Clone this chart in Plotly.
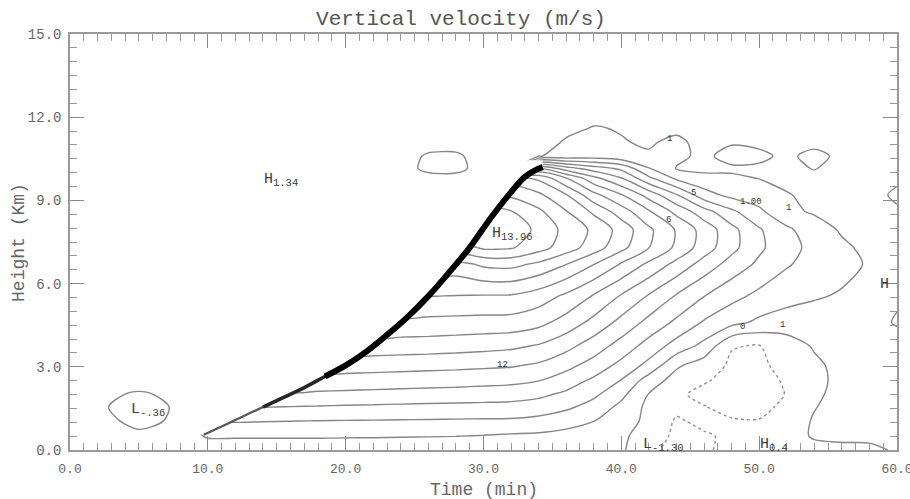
import plotly.graph_objects as go

# ---------------- data ----------------
time_min = [0, 2.5, 5, 7.5, 10, 12, 14, 16, 18, 20, 22, 24, 26, 28, 30,
            32, 34, 36, 38, 40, 42, 44, 46, 48, 50, 52, 54, 56, 58, 60]
height_km = [0, 0.5, 1.05, 1.55, 2.0, 2.5, 3.05, 3.75, 4.6, 5.55, 6.7, 7.3,
             7.95, 8.6, 9.2, 9.8, 10.15, 10.6, 11.1, 11.6, 12.5, 13.5, 15]

# vertical velocity (m/s), one list per height row, columns follow time_min
w_h0000 = [0.45, 0.45, 0.3, 0.45, 0.45, 0.45, 0.45, 0.45, 0.45, 0.45, 0.45, 0.45, 0.45, 0.45, 0.45,
           0.45, 0.45, 0.45, 0.4, 0.15, -0.8, -1.3, -1.2, -0.6, -0.5, -0.4, -0.3, -0.3, -0.2, 0.1]
w_h0050 = [0.45, 0.35, 0.2, 0.35, 1.1, 1.1, 1.1, 1.1, 1.1, 1.08, 1.07, 1.05, 1.03, 1.01, 0.95,
           0.85, 0.8, 0.7, 0.55, 0.2, -0.5, -1.2, -1.1, -0.85, -0.75, -0.4, 0.1, 0.25, 0.2, 0.3]
w_h0105 = [0.5, 0.2, -0.25, 0.1, 2.1, 2.1, 2.05, 2.02, 1.99, 1.97, 1.95, 1.93, 1.91, 1.89, 1.87,
           1.85, 1.7, 1.35, 1.02, 0.55, -0.3, -1.1, -0.8, -0.9, -0.95, -0.6, 0.1, 0.35, 0.3, 0.4]
w_h0155 = [0.5, 0.05, -0.36, 0.05, 0.5, 3.02, 3.02, 2.97, 2.93, 2.88, 2.84, 2.8, 2.77, 2.74, 2.72,
           2.7, 2.55, 2.2, 1.6, 0.75, -0.25, -0.8, -0.95, -1.35, -1.3, -0.75, -0.05, 0.4, 0.35, 0.45]
w_h0200 = [0.5, 0.2, -0.15, 0.2, 0.5, 0.5, 3.85, 3.85, 3.8, 3.75, 3.7, 3.65, 3.6, 3.55, 3.48,
           3.4, 3.2, 2.8, 2.2, 1.25, -0.05, -0.8, -1.3, -1.6, -1.5, -0.95, -0.2, 0.35, 0.4, 0.5]
w_h0250 = [0.5, 0.5, 0.5, 0.5, 0.5, 0.5, 0.5, 4.65, 4.65, 4.6, 4.55, 4.5, 4.45, 4.4, 4.33,
           4.25, 4.02, 3.5, 2.8, 1.95, 0.5, -0.4, -0.9, -1.35, -1.3, -0.9, -0.3, 0.3, 0.4, 0.5]
w_h0305 = [0.5, 0.5, 0.5, 0.5, 0.5, 0.5, 0.5, 0.5, 5.45, 5.45, 5.4, 5.35, 5.3, 5.25, 5.18,
           5.1, 4.85, 4.3, 3.6, 2.7, 1.7, 0.15, -0.5, -1.15, -1.15, -0.75, -0.2, 0.3, 0.45, 0.5]
w_h0375 = [0.5, 0.5, 0.5, 0.5, 0.5, 0.5, 0.5, 0.5, 0.5, 6.6, 6.6, 6.55, 6.5, 6.42, 6.32,
           6.2, 5.9, 5.3, 4.5, 3.6, 2.6, 1.6, 0.7, -0.95, -1.05, -0.5, 0.1, 0.4, 0.5, 0.55]
w_h0460 = [0.5, 0.5, 0.5, 0.5, 0.5, 0.5, 0.5, 0.5, 0.5, 0.5, 7.75, 7.75, 7.72, 7.68, 7.64,
           7.6, 7.3, 6.6, 5.7, 4.7, 3.7, 2.8, 1.9, 1.3, 0.8, 0.55, 0.5, 0.5, 0.6, 1.1]
w_h0555 = [0.5, 0.5, 0.5, 0.5, 0.5, 0.5, 0.5, 0.5, 0.5, 0.5, 0.5, 9.02, 9.02, 8.97, 8.93,
           8.9, 8.5, 7.8, 6.9, 5.9, 4.9, 3.9, 3.02, 2.3, 1.75, 1.35, 1.1, 0.9, 0.75, 0.85]
w_h0670 = [0.5, 0.5, 0.5, 0.5, 0.5, 0.5, 0.5, 0.5, 0.5, 0.5, 0.5, 0.5, 10.6, 10.6, 11.2,
           11.3, 10.8, 10.02, 9.03, 7.9, 6.8, 5.7, 4.6, 3.6, 2.8, 2.1, 1.6, 1.3, 0.9, 0.9]
w_h0730 = [0.5, 0.5, 0.5, 0.5, 0.5, 0.5, 0.5, 0.5, 0.5, 0.5, 0.5, 0.5, 0.5, 12.3, 13.2,
           13.1, 12.4, 11.5, 10.5, 9.3, 8.02, 6.8, 5.5, 4.3, 3.2, 2.3, 1.75, 1.15, 0.8, 0.85]
w_h0795 = [0.5, 0.5, 0.5, 0.5, 0.5, 0.5, 0.5, 0.5, 0.5, 0.5, 0.5, 0.5, 0.5, 13.9, 13.96,
           13.8, 12.7, 11.7, 10.8, 9.6, 8.2, 6.9, 5.6, 4.3, 3.1, 2.2, 1.4, 0.9, 0.7, 0.8]
w_h0860 = [0.5, 0.5, 0.5, 0.5, 0.5, 0.5, 0.5, 0.5, 0.5, 0.5, 0.5, 0.5, 0.5, 0.5, 13.3,
           13.05, 12.2, 11.05, 9.8, 8.5, 7.1, 5.7, 4.4, 3.2, 2.2, 1.2, 0.9, 0.6, 0.6, 0.85]
w_h0920 = [0.5, 0.5, 0.5, 0.5, 0.5, 0.5, 0.5, 0.5, 0.5, 0.5, 0.5, 0.5, 0.5, 0.5, 11.8,
           11.8, 11.2, 10.05, 8.3, 7.05, 5.6, 4.05, 2.4, 1.7, 1.5, 1.05, 0.8, 0.6, 0.6, 1.2]
w_h0980 = [0.5, 0.5, 0.5, 0.5, 0.5, 0.5, 0.5, 0.5, 0.5, 0.5, 0.5, 0.5, 0.6, 0.6, 0.5,
           10.4, 9.8, 8.05, 6.3, 5.05, 3.2, 1.8, 1.3, 1.15, 0.98, 0.8, 0.7, 0.6, 0.6, 0.8]
w_h1015 = [0.5, 0.5, 0.5, 0.5, 0.5, 0.5, 0.5, 0.5, 0.5, 0.5, 0.5, 0.5, 1.3, 1.35, 0.5,
           0.5, 7.05, 5.5, 4.5, 3.8, 2.05, 0.95, 0.75, 0.85, 0.85, 0.7, 1.05, 0.6, 0.6, 0.6]
w_h1060 = [0.5, 0.5, 0.5, 0.5, 0.5, 0.5, 0.5, 0.5, 0.5, 0.5, 0.5, 0.5, 1.15, 1.2, 0.5,
           0.5, 0.95, 1.3, 1.5, 1.25, 1.1, 1.2, 0.8, 1.35, 1.2, 0.8, 1.3, 0.75, 0.6, 0.6]
w_h1110 = [0.5, 0.5, 0.5, 0.5, 0.5, 0.5, 0.5, 0.5, 0.5, 0.5, 0.5, 0.5, 0.5, 0.5, 0.5,
           0.5, 0.6, 1.1, 1.4, 1.05, 0.9, 1.2, 0.7, 0.9, 0.8, 0.6, 0.7, 0.55, 0.5, 0.5]
w_h1160 = [0.5, 0.5, 0.5, 0.5, 0.5, 0.5, 0.5, 0.5, 0.5, 0.5, 0.5, 0.5, 0.5, 0.5, 0.5,
           0.5, 0.5, 0.8, 1.05, 0.95, 0.6, 0.8, 0.5, 0.5, 0.5, 0.5, 0.5, 0.5, 0.5, 0.5]
w_h1250 = [0.5, 0.5, 0.5, 0.5, 0.5, 0.5, 0.5, 0.5, 0.5, 0.5, 0.5, 0.5, 0.5, 0.5, 0.5,
           0.5, 0.5, 0.5, 0.5, 0.5, 0.5, 0.5, 0.5, 0.5, 0.5, 0.5, 0.5, 0.5, 0.5, 0.5]
w_h1350 = [0.5, 0.5, 0.5, 0.5, 0.5, 0.5, 0.5, 0.5, 0.5, 0.5, 0.5, 0.5, 0.5, 0.5, 0.5,
           0.5, 0.5, 0.5, 0.5, 0.5, 0.5, 0.5, 0.5, 0.5, 0.5, 0.5, 0.5, 0.5, 0.5, 0.5]
w_h1500 = [0.5, 0.5, 0.5, 0.5, 0.5, 0.5, 0.5, 0.5, 0.5, 0.5, 0.5, 0.5, 0.5, 0.5, 0.5,
           0.5, 0.5, 0.5, 0.5, 0.5, 0.5, 0.5, 0.5, 0.5, 0.5, 0.5, 0.5, 0.5, 0.5, 0.5]

w_rows = [w_h0000, w_h0050, w_h0105, w_h0155, w_h0200, w_h0250, w_h0305, w_h0375,
          w_h0460, w_h0555, w_h0670, w_h0730, w_h0795, w_h0860, w_h0920, w_h0980,
          w_h1015, w_h1060, w_h1110, w_h1160, w_h1250, w_h1350, w_h1500]

# leading edge of the updraft (the thick black line)
edge_time = [9.7, 11.0, 12.5, 14.0, 15.5, 17.0, 18.5, 20.0, 21.5, 23.0,
             24.5, 26.0, 27.5, 29.0, 30.5, 32.0, 33.0, 33.8, 34.3]
edge_height = [0.55, 0.85, 1.2, 1.55, 1.9, 2.25, 2.65, 3.05, 3.55, 4.15,
               4.8, 5.55, 6.4, 7.3, 8.35, 9.3, 9.85, 10.1, 10.2]

# extrema / contour labels
big_label_text = ["H<sub>1.34</sub>", "H<sub>13.96</sub>", "L<sub>-.36</sub>", "H",
                  "L<sub>-1.30</sub>", "H<sub>0.4</sub>"]
big_label_t = [13.9, 30.45, 4.3, 58.6, 41.4, 49.9]
big_label_h = [9.75, 7.8, 1.45, 5.95, 0.17, 0.17]

small_label_text = ["12", "1", "5", "1.00", "1", "6", "0", "1"]
small_label_t = [31.4, 43.5, 45.2, 49.4, 52.1, 43.4, 48.8, 51.7]
small_label_h = [3.07, 11.2, 9.27, 8.95, 8.73, 8.3, 4.44, 4.5]

# ---------------- figure ----------------
MONO = "Liberation Mono, DejaVu Sans Mono, monospace"
fig = go.Figure()

fig.add_trace(go.Contour(
    x=time_min, y=height_km, z=w_rows,
    contours=dict(start=0, end=13, size=1, coloring="none"),
    line=dict(color="#868686", width=1.4, smoothing=0.8),
    showscale=False, hoverinfo="skip"))

fig.add_trace(go.Contour(
    x=time_min, y=height_km, z=w_rows,
    contours=dict(start=-3, end=-1, size=1, coloring="none"),
    line=dict(color="#909090", width=1.4, dash="dot", smoothing=0.8),
    showscale=False, hoverinfo="skip"))

# white area ahead of the edge
MASK_W = 4.5
mask_t = (edge_time + [edge_time[-1], edge_time[-1] - MASK_W]
          + [t - MASK_W for t in reversed(edge_time)])
mask_h = edge_height + [10.45, 10.45] + list(reversed(edge_height))
fig.add_trace(go.Scatter(x=mask_t, y=mask_h, mode="lines", fill="toself",
                         fillcolor="white", line=dict(width=0, color="white"),
                         hoverinfo="skip", showlegend=False))

# the edge line, thin at the bottom and thick higher up
fig.add_trace(go.Scatter(x=edge_time[0:5], y=edge_height[0:5], mode="lines",
                         line=dict(color="#555555", width=2.2, shape="spline"),
                         hoverinfo="skip", showlegend=False))
fig.add_trace(go.Scatter(x=edge_time[3:8], y=edge_height[3:8], mode="lines",
                         line=dict(color="#262626", width=3.6, shape="spline"),
                         hoverinfo="skip", showlegend=False))
fig.add_trace(go.Scatter(x=edge_time[6:], y=edge_height[6:], mode="lines",
                         line=dict(color="black", width=6, shape="spline"),
                         hoverinfo="skip", showlegend=False))

annotations = []
for txt, t, h in zip(big_label_text, big_label_t, big_label_h):
    annotations.append(dict(x=t, y=h, xref="x", yref="y", text=txt, showarrow=False,
                            xanchor="left", yanchor="middle",
                            font=dict(family=MONO, size=15, color="#3c3c3c")))
for txt, t, h in zip(small_label_text, small_label_t, small_label_h):
    annotations.append(dict(x=t, y=h, xref="x", yref="y", text=txt, showarrow=False,
                            xanchor="center", yanchor="middle",
                            font=dict(family=MONO, size=9, color="#333333")))
annotations.append(dict(x=0.5, y=-0.096, xref="paper", yref="paper", text="Time (min)",
                        showarrow=False, xanchor="center", yanchor="middle",
                        font=dict(family=MONO, size=18, color="#666666")))
annotations.append(dict(x=-0.0617, y=0.5, xref="paper", yref="paper", text="Height (Km)",
                        showarrow=False, xanchor="center", yanchor="middle", textangle=-90,
                        font=dict(family=MONO, size=18, color="#666666")))

axis_common = dict(showgrid=False, zeroline=False, showline=True, linecolor="#9a9a9a",
                   linewidth=1.5, mirror="ticks", ticks="inside", ticklen=14,
                   tickcolor="#8a8a8a", tickwidth=1, tickformat=".1f", automargin=False,
                   ticklabeloverflow="allow")

fig.update_layout(
    width=910, height=499,
    margin=dict(l=70, r=13, t=34, b=49, autoexpand=False),
    paper_bgcolor="white", plot_bgcolor="white",
    showlegend=False,
    title=dict(text="Vertical velocity (m/s)", x=0.4728, xref="paper", xanchor="center",
               y=0.964, yref="container", yanchor="middle", automargin=False,
               font=dict(family=MONO, size=21, color="#555555")),
    xaxis=dict(range=[0, 60], tick0=0, dtick=10, ticklabelstandoff=6,
               tickfont=dict(family=MONO, size=13, color="#666666"),
               minor=dict(dtick=1, ticklen=7, tickcolor="#9a9a9a", ticks="inside"),
               **axis_common),
    yaxis=dict(range=[0, 15], tick0=0, dtick=3, ticklabelstandoff=4,
               tickfont=dict(family=MONO, size=14, color="#666666"),
               minor=dict(dtick=0.5, ticklen=7, tickcolor="#9a9a9a", ticks="inside"),
               **axis_common),
    annotations=annotations,
)

fig.write_html("out.html",
               config={"displayModeBar": False},
               post_script="document.body.style.margin='0';"
                           "document.body.style.overflow='hidden';")
